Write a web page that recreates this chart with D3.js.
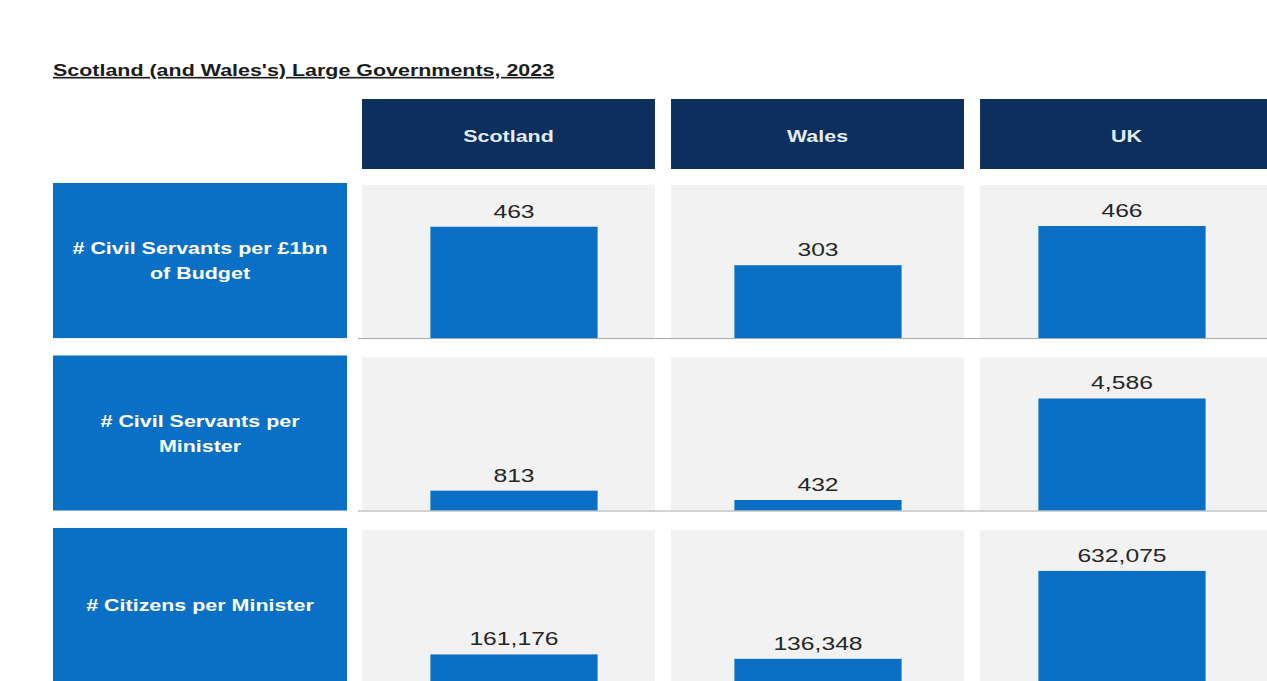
<!DOCTYPE html>
<html>
<head>
<meta charset="utf-8">
<script src="https://cdn.jsdelivr.net/npm/d3@7"></script>
<style>
  html, body { margin: 0; padding: 0; background: #ffffff; }
  svg { display: block; font-family: "Liberation Sans", Arial, sans-serif; }
</style>
</head>
<body>
<svg id="chart" width="1267" height="681"></svg>
<script>
// Regions compared (column headers)
const regions = ["Scotland", "Wales", "UK"];

// Metrics (row labels, one array of text lines per row)
const metrics = ["cs_budget", "cs_minister", "citizens_minister"];
const metricLabels = [
  ["# Civil Servants per £1bn", "of Budget"],
  ["# Civil Servants per", "Minister"],
  ["# Citizens per Minister"]
];

// Values per metric, in region order
const civilServantsPerBudget = [463, 303, 466];
const civilServantsPerMinister = [813, 432, 4586];
const citizensPerMinister = [161176, 136348, 632075];
const seriesValues = [civilServantsPerBudget, civilServantsPerMinister, citizensPerMinister];

const title = "Scotland (and Wales's) Large Governments, 2023";

const W = 1267, H = 681;
const svg = d3.select("#chart");

const COLORS = {
  header: "#0c2f5e",
  headerText: "#e3ecf6",
  rowLabel: "#0a70c6",
  bar: "#0a6fc4",
  cell: "#f2f2f2",
  baseline: "#a8a8a8",
  value: "#262626",
  title: "#1c1c1c"
};

// Wide letterforms of the layout
const STRETCH = 1.3;

// Column layout: header boxes / cell backgrounds
const colX = d3.scaleBand().domain(regions).range([362, 1273]).paddingInner(0.052).paddingOuter(0);
// Bar positions inside the same span
const barX = d3.scaleBand().domain(regions).range([362, 1274]).paddingInner(0.45).paddingOuter(0.225);
// Row layout
const rowY = d3.scaleBand().domain(metrics).range([183, 683]).paddingInner(0.101).paddingOuter(0);

// Title
svg.append("text")
  .attr("transform", `translate(53,76) scale(${STRETCH},1)`)
  .attr("font-size", 16.5)
  .attr("font-weight", "bold")
  .attr("fill", COLORS.title)
  .style("text-decoration", "underline")
  .text(title);

// Column headers
const headers = svg.append("g").selectAll("g").data(regions).join("g");
headers.append("rect")
  .attr("x", d => colX(d))
  .attr("y", 99)
  .attr("width", colX.bandwidth())
  .attr("height", 70)
  .attr("fill", COLORS.header);
headers.append("text")
  .attr("transform", d => `translate(${colX(d) + colX.bandwidth() / 2},142) scale(${STRETCH},1)`)
  .attr("text-anchor", "middle")
  .attr("font-size", 16.5)
  .attr("font-weight", "bold")
  .attr("fill", COLORS.headerText)
  .text(d => d);

// Rows
metrics.forEach((m, i) => {
  const top = rowY(m);
  const h = rowY.bandwidth();
  const bottom = top + h;
  const g = svg.append("g");

  // Row label box
  g.append("rect")
    .attr("x", 53).attr("y", top)
    .attr("width", 294).attr("height", h)
    .attr("fill", COLORS.rowLabel);

  const lines = metricLabels[i];
  const lh = 25;
  const cy = top + h / 2;
  g.append("g").selectAll("text").data(lines).join("text")
    .attr("transform", (d, j) => `translate(200,${cy + 6 + (j - (lines.length - 1) / 2) * lh}) scale(${STRETCH},1)`)
    .attr("text-anchor", "middle")
    .attr("font-size", 16.5)
    .attr("font-weight", "bold")
    .attr("fill", "#ffffff")
    .text(d => d);

  // Cell backgrounds
  g.append("g").selectAll("rect").data(regions).join("rect")
    .attr("x", d => colX(d))
    .attr("y", top + 2)
    .attr("width", colX.bandwidth())
    .attr("height", h - 2)
    .attr("fill", COLORS.cell);

  // Value scale for this metric
  const vals = seriesValues[i];
  const y = d3.scaleLinear().domain([0, d3.max(vals)]).range([bottom, bottom - h * 0.7226]);

  const data = regions.map((r, k) => ({ region: r, value: vals[k] }));

  g.append("g").selectAll("rect").data(data).join("rect")
    .attr("x", d => barX(d.region))
    .attr("y", d => y(d.value))
    .attr("width", barX.bandwidth())
    .attr("height", d => bottom - y(d.value))
    .attr("fill", COLORS.bar);

  // Baseline
  g.append("line")
    .attr("x1", 358).attr("x2", W)
    .attr("y1", bottom + 0.5).attr("y2", bottom + 0.5)
    .attr("stroke", COLORS.baseline)
    .attr("stroke-width", 1);

  // Value labels
  const fmt = d3.format(",");
  g.append("g").selectAll("text").data(data).join("text")
    .attr("transform", d => `translate(${barX(d.region) + barX.bandwidth() / 2},${y(d.value) - 9}) scale(${STRETCH},1)`)
    .attr("text-anchor", "middle")
    .attr("font-size", 19)
    .attr("fill", COLORS.value)
    .text(d => fmt(d.value));
});
</script>
</body>
</html>
